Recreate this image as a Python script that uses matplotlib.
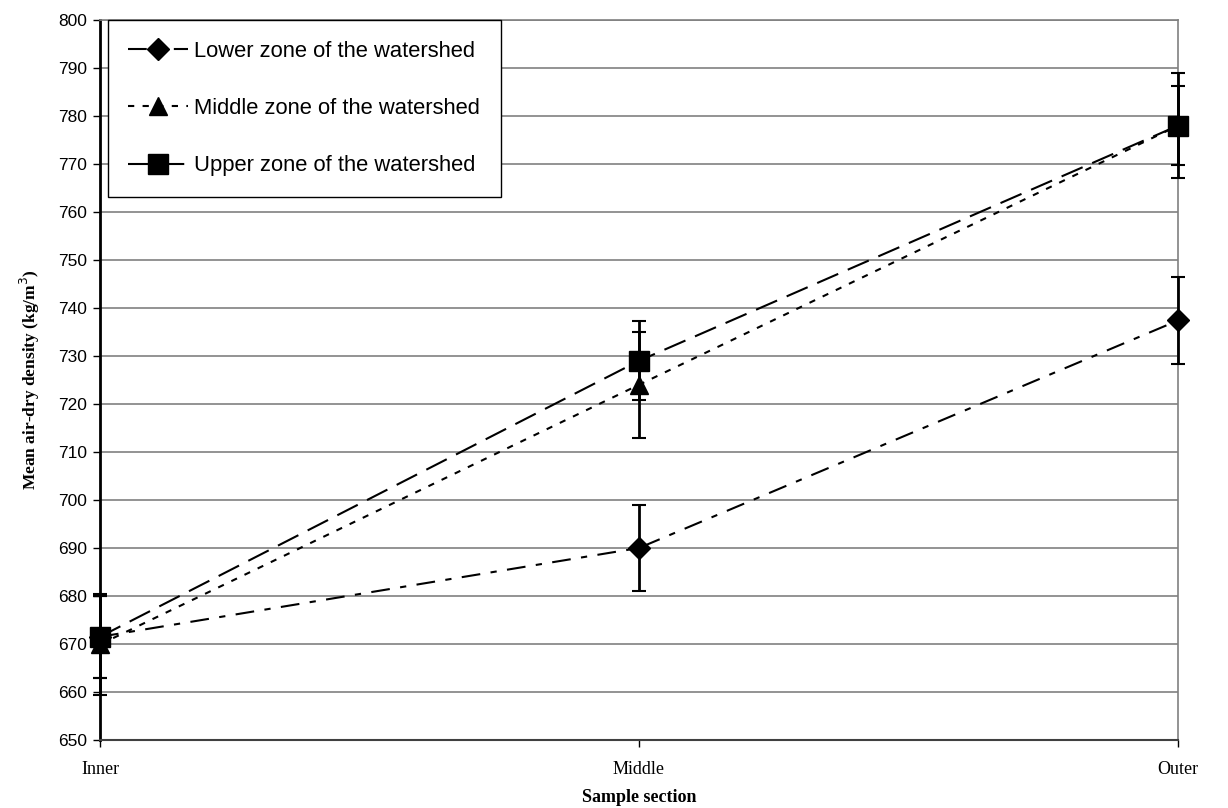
"""
Mean air-dry density by sample section for three watershed zones.
"""
import matplotlib
matplotlib.use('Agg')
import matplotlib.pyplot as plt
import numpy as np

# Data
sections = ['Inner', 'Middle', 'Outer']

lower_mean = [671.5, 690.0, 737.4]
lower_err = [8.5, 9.0, 9.1]

middle_mean = [669.9, 724.0, 778.0]
middle_err = [10.6, 11.0, 8.2]

upper_mean = [671.5, 729.0, 778.0]
upper_err = [8.5, 8.2, 11.0]

# Figure setup
fig = plt.figure(figsize=(12.28, 8.08), dpi=100)
ax = fig.add_axes([0.0814, 0.0842, 0.8779, 0.8910])

x = np.arange(len(sections))

series = [
    ('Lower zone of the watershed', lower_mean, lower_err, 'D', (0, (9, 5, 3, 5)), 11),
    ('Middle zone of the watershed', middle_mean, middle_err, '^', (0, (3, 4)), 13),
    ('Upper zone of the watershed', upper_mean, upper_err, 's', (0, (11, 5)), 14),
]

for label, mean, err, marker, ls, ms in series:
    ax.errorbar(x, mean, yerr=err, fmt='none', ecolor='black', elinewidth=2,
                capsize=5, capthick=1.5, clip_on=False, zorder=3)
    ax.plot(x, mean, color='black', linestyle=ls, linewidth=1.5, marker=marker,
            markersize=ms, markerfacecolor='black', markeredgecolor='black',
            label=label, clip_on=False, zorder=4)

# Axes styling
ax.set_xlim(0, 2)
ax.set_ylim(650, 800)
ax.set_yticks(np.arange(650, 801, 10))
ax.set_xticks(x)
ax.set_xticklabels(sections, fontfamily='Liberation Serif', fontsize=13)
for t in ax.get_yticklabels():
    t.set_fontfamily('Liberation Sans')
    t.set_fontsize(12.5)

ax.grid(True, axis='y', color='#808080', linewidth=1.2)
ax.set_axisbelow(True)
ax.tick_params(axis='y', direction='out', length=5, width=1, pad=4)
ax.tick_params(axis='x', direction='out', length=5, width=1, pad=10)

ax.spines['left'].set_color('black')
ax.spines['left'].set_linewidth(2)
ax.spines['bottom'].set_color('#404040')
ax.spines['bottom'].set_linewidth(1.5)
ax.spines['top'].set_color('#808080')
ax.spines['top'].set_linewidth(1.2)
ax.spines['right'].set_color('#808080')
ax.spines['right'].set_linewidth(1.2)

ax.set_xlabel('Sample section', fontfamily='Liberation Serif', fontweight='bold',
              fontsize=13, labelpad=8)
ax.set_ylabel('Mean air-dry density (kg/m$^3$)', fontfamily='Liberation Serif',
              fontweight='bold', fontsize=12.5, labelpad=12)

leg = ax.legend(loc='upper left', bbox_to_anchor=(0.007, 1.0), frameon=True,
                fancybox=False, edgecolor='black', framealpha=1,
                prop={'family': 'Liberation Sans', 'size': 15.8},
                labelspacing=1.65, handlelength=2.7, borderpad=0.95,
                handletextpad=0.3, borderaxespad=0)
leg.get_frame().set_linewidth(1.0)

plt.savefig('out.png', dpi=100)
plt.close()
